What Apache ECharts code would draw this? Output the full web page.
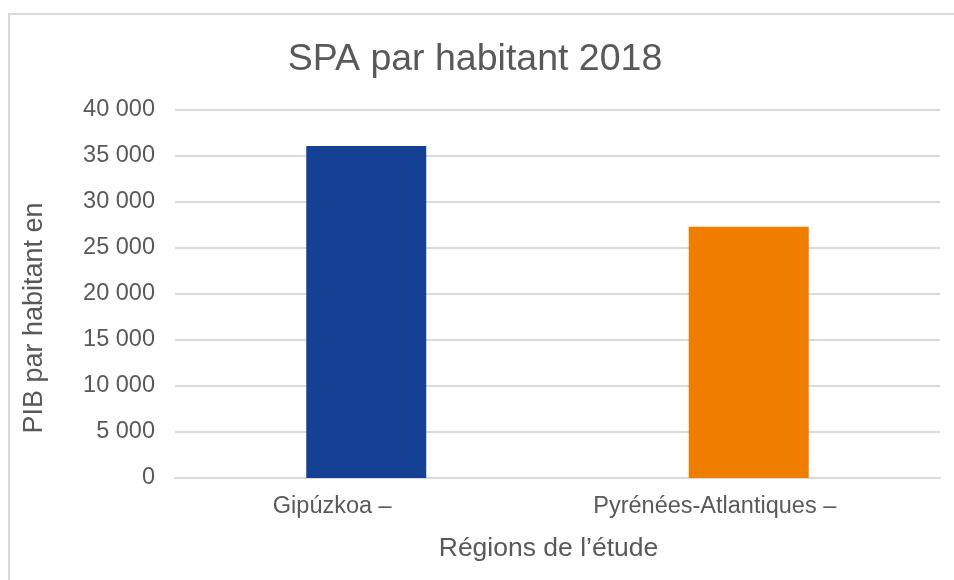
<!DOCTYPE html>
<html>
<head>
<meta charset="utf-8">
<script src="https://cdn.jsdelivr.net/npm/echarts@6/dist/echarts.min.js"></script>
<style>
  html, body { margin: 0; padding: 0; background: #fff; }
  #chart { width: 954px; height: 580px; }
</style>
</head>
<body>
<div id="chart"></div>
<script>
'use strict'
// données
const categories = ['Gipúzkoa –', 'Pyrénées-Atlantiques –'];
const values = [36100, 27300];
const barColors = ['#154194', '#ef7d00'];

const fmt = (v) => String(v).replace(/\B(?=(\d{3})+(?!\d))/g, ' ');
const grey = '#595959';
const font = '"Liberation Sans", Arial, sans-serif';

let option = {
  animation: false,
  textStyle: { fontFamily: font },
  title: {
    text: 'SPA par habitant 2018',
    left: 470,
    top: 36,
    textAlign: 'center',
    textStyle: { color: grey, fontSize: 37.5, fontWeight: 'normal', fontFamily: font }
  },
  grid: { left: 175, right: 14, top: 110, bottom: 102, containLabel: false },
  xAxis: {
    type: 'category',
    data: categories,
    name: 'Régions de l’étude',
    nameLocation: 'middle',
    nameGap: 57,
    nameTextStyle: { color: grey, fontSize: 26.5, fontFamily: font, padding: [0, 18, 0, 0] },
    axisTick: { show: false },
    axisLine: { lineStyle: { color: '#d9d9d9', width: 2 } },
    // les libellés d'origine sont décalés vers la gauche
    axisLabel: { color: grey, fontSize: 23.5, margin: 17, fontFamily: font, padding: [0, 68, 0, 0] }
  },
  yAxis: {
    type: 'value',
    min: 0,
    max: 40000,
    interval: 5000,
    axisLine: { show: false },
    axisTick: { show: false },
    splitLine: { lineStyle: { color: '#d9d9d9', width: 2 } },
    axisLabel: { color: grey, fontSize: 23.5, margin: 20, formatter: fmt, fontFamily: font, padding: [7, 0, 0, 0] }
  },
  graphic: [
    {
      type: 'rect',
      shape: { x: 9, y: 14, width: 1200, height: 1200 },
      style: { fill: 'none', stroke: '#d9d9d9', lineWidth: 2 },
      silent: true
    },
    {
      type: 'text',
      x: 35,
      y: 318,
      rotation: Math.PI / 2,
      style: {
        text: 'PIB par habitant en',
        fill: grey,
        fontSize: 27,
        fontFamily: font,
        align: 'center',
        verticalAlign: 'middle'
      }
    }
  ],
  series: [{
    type: 'bar',
    barWidth: 120,
    data: values.map((v, i) => ({ value: v, itemStyle: { color: barColors[i] } }))
  }]
};

let myChart = echarts.init(document.getElementById('chart'));
myChart.setOption(option);
</script>
</body>
</html>
